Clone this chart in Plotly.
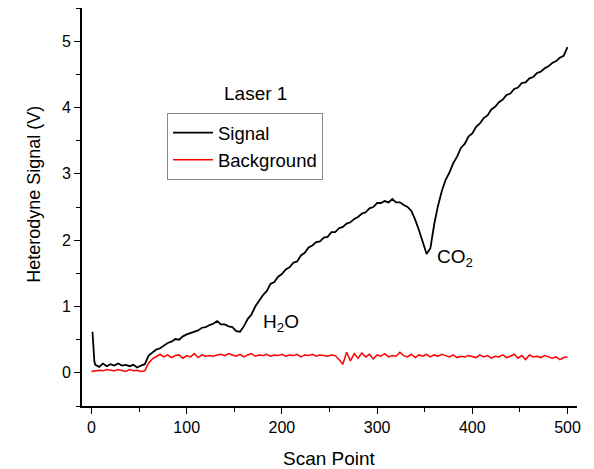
import plotly.graph_objects as go

# ---- data ----
sig_x = [1, 2, 3] + list(range(4, 501, 4))
sig_y = [
    0.62, 0.30, 0.17,
    0.12, 0.09, 0.14, 0.10, 0.13, 0.11, 0.14, 0.11, 0.12, 0.10,
    0.12, 0.08, 0.11, 0.13, 0.26, 0.31, 0.35, 0.37, 0.41, 0.45,
    0.47, 0.51, 0.50, 0.55, 0.58, 0.60, 0.63, 0.64, 0.68, 0.69,
    0.72, 0.74, 0.78, 0.73, 0.73, 0.70, 0.69, 0.63, 0.62, 0.70,
    0.81, 0.88, 1.00, 1.08, 1.17, 1.23, 1.34, 1.37, 1.45, 1.49,
    1.56, 1.59, 1.66, 1.68, 1.77, 1.81, 1.89, 1.92, 1.97, 1.98,
    2.04, 2.05, 2.12, 2.12, 2.18, 2.20, 2.25, 2.27, 2.32, 2.35,
    2.40, 2.42, 2.48, 2.50, 2.56, 2.56, 2.59, 2.57, 2.62, 2.57,
    2.57, 2.53, 2.50, 2.44, 2.31, 2.15, 1.97, 1.79, 1.88, 2.24,
    2.52, 2.74, 2.91, 3.02, 3.16, 3.26, 3.39, 3.45, 3.56, 3.61,
    3.71, 3.76, 3.84, 3.88, 3.97, 4.01, 4.08, 4.12, 4.19, 4.21,
    4.28, 4.30, 4.37, 4.38, 4.44, 4.46, 4.52, 4.54, 4.59, 4.62,
    4.67, 4.70, 4.75, 4.78, 4.91,
]

bg_x = list(range(0, 501, 4))
bg_y = [
    0.02, 0.03, 0.04, 0.03, 0.05, 0.04, 0.03, 0.05, 0.04, 0.02,
    0.05, 0.03, 0.04, 0.02, 0.03, 0.15, 0.21, 0.25, 0.28, 0.24,
    0.27, 0.23, 0.26, 0.27, 0.22, 0.26, 0.24, 0.29, 0.23, 0.27,
    0.25, 0.26, 0.25, 0.27, 0.28, 0.26, 0.29, 0.27, 0.25, 0.28,
    0.24, 0.27, 0.29, 0.25, 0.27, 0.26, 0.28, 0.25, 0.27, 0.26,
    0.28, 0.25, 0.27, 0.26, 0.28, 0.24, 0.27, 0.26, 0.28, 0.25,
    0.27, 0.26, 0.25, 0.27, 0.26, 0.20, 0.13, 0.31, 0.18, 0.29,
    0.22, 0.30, 0.24, 0.28, 0.21, 0.27, 0.25, 0.29, 0.24, 0.26,
    0.25, 0.31, 0.26, 0.24, 0.28, 0.23, 0.27, 0.25, 0.28, 0.24,
    0.27, 0.25, 0.28, 0.26, 0.24, 0.27, 0.23, 0.25, 0.24, 0.26,
    0.25, 0.23, 0.27, 0.24, 0.26, 0.22, 0.25, 0.24, 0.27, 0.23,
    0.25, 0.28, 0.22, 0.26, 0.20, 0.27, 0.24, 0.25, 0.23, 0.26,
    0.24, 0.22, 0.24, 0.20, 0.23, 0.24,
]

series_names = ["Signal", "Background"]
legend_title = "Laser 1"
x_title = "Scan Point"
y_title = "Heterodyne Signal (V)"
labels = ["H<sub>2</sub>O", "CO<sub>2</sub>"]
label_x = [199, 382]
label_y = [0.75, 1.73]

assert len(sig_x) == len(sig_y)
assert len(bg_x) == len(bg_y)

FONT = "Liberation Sans, Arial, sans-serif"
BIG = 19

fig = go.Figure()
fig.add_trace(go.Scatter(x=sig_x, y=sig_y, mode="lines", name=series_names[0],
                         line=dict(color="black", width=1.8)))
fig.add_trace(go.Scatter(x=bg_x, y=bg_y, mode="lines", name=series_names[1],
                         line=dict(color="#ff0000", width=1.5)))

for t, ax, ay in zip(labels, label_x, label_y):
    fig.add_annotation(x=ax, y=ay, text=t, showarrow=False,
                       xanchor="center", yanchor="middle",
                       font=dict(family=FONT, size=BIG, color="black"))

fig.add_annotation(xref="paper", yref="paper", x=0.3505, y=0.784, text=legend_title,
                   xanchor="center", yanchor="middle", showarrow=False,
                   font=dict(family=FONT, size=BIG, color="black"))
fig.add_annotation(xref="paper", yref="paper", x=0.5, y=-0.1307, text=x_title,
                   xanchor="center", yanchor="middle", showarrow=False,
                   font=dict(family=FONT, size=BIG, color="black"))
fig.add_annotation(xref="paper", yref="paper", x=-0.097, y=0.533, text=y_title,
                   textangle=-90, xanchor="center", yanchor="middle", showarrow=False,
                   font=dict(family=FONT, size=18, color="black"))

axis_common = dict(showline=True, linecolor="black", linewidth=2, ticks="outside",
                   ticklen=6, tickwidth=1.3, tickcolor="black", showgrid=False,
                   zeroline=False, mirror=False, automargin=False,
                   tickfont=dict(family=FONT, size=16, color="black"))

# the page body adds an 8px offset; the figure is sized so the plot area lands
# at x 82..577 and y 8..406 of the window
fig.update_layout(
    width=586, height=461,
    margin=dict(l=74, r=17, t=0, b=63),
    paper_bgcolor="white", plot_bgcolor="white",
    font=dict(family=FONT, color="black"),
    showlegend=True,
    legend=dict(x=0.1717, y=0.736, xanchor="left", yanchor="top",
                bordercolor="#888888", borderwidth=1, bgcolor="white",
                font=dict(family=FONT, size=18.5, color="black"),
                tracegroupgap=0, itemwidth=40, entrywidth=118,
                entrywidthmode="pixels"),
    xaxis=dict(range=[-10, 510], tick0=0, dtick=100,
               minor=dict(ticks="outside", dtick=50, tick0=0, ticklen=4, tickcolor="black"),
               **axis_common),
    yaxis=dict(range=[-0.5, 5.5], tick0=0, dtick=1,
               minor=dict(ticks="outside", dtick=0.5, tick0=0, ticklen=4, tickcolor="black"),
               **axis_common),
)

fig.write_html("out.html")
